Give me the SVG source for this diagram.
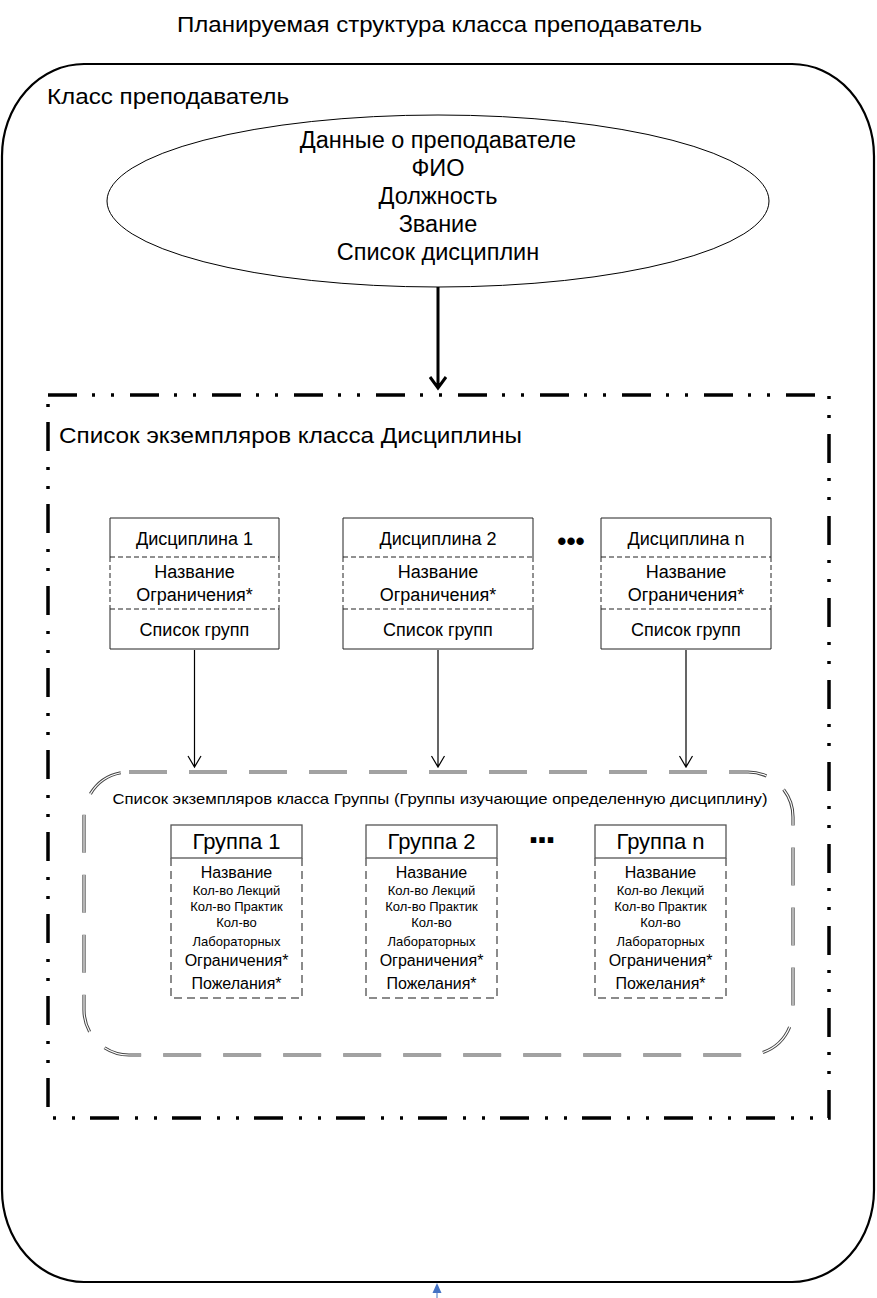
<svg xmlns="http://www.w3.org/2000/svg" width="877" height="1298" viewBox="0 0 877 1298">
<style>
.cal{font-family:"Liberation Sans",Arial,sans-serif;fill:#000}
.ar{font-family:"Liberation Sans",Arial,sans-serif;fill:#000;text-anchor:middle}
.solid{fill:none;stroke:#222;stroke-width:1}
.dsh{fill:none;stroke:#222;stroke-width:1;stroke-dasharray:5 3}
.gsolid{fill:none;stroke:#555;stroke-width:1.3}
.gdsh{fill:none;stroke:#666;stroke-width:1.5;stroke-dasharray:8 5}
.conn{fill:none;stroke:#000;stroke-width:1.2}
</style>
<rect width="877" height="1298" fill="#fff"/>

<text class="cal" x="177" y="32" font-size="22" textLength="525" lengthAdjust="spacingAndGlyphs">Планируемая структура класса преподаватель</text>

<g id="teacher-class">
<rect x="2" y="64" width="872" height="1218" rx="82" ry="92" fill="none" stroke="#000" stroke-width="2.2"/>
<text class="cal" x="47" y="104" font-size="22" textLength="242" lengthAdjust="spacingAndGlyphs">Класс преподаватель</text>
</g>

<g id="teacher-data">
<ellipse cx="438" cy="201" rx="331" ry="86" fill="#fff" stroke="#000" stroke-width="1"/>
<text class="ar" x="438" y="148" font-size="23.5">Данные о преподавателе</text>
<text class="ar" x="438" y="176" font-size="23.5">ФИО</text>
<text class="ar" x="438" y="204" font-size="23.5">Должность</text>
<text class="ar" x="438" y="232" font-size="23.5">Звание</text>
<text class="ar" x="438" y="260" font-size="23.5">Список дисциплин</text>
</g>

<g id="discipline-list">
<rect x="48" y="395" width="781" height="723" fill="none" stroke="#000" stroke-width="3.5" stroke-dasharray="29 15 3 16 3 16"/>
<text class="cal" x="59" y="443" font-size="22" textLength="463" lengthAdjust="spacingAndGlyphs">Список экземпляров класса Дисциплины</text>
</g>

<g id="discipline-1">
<path class="solid" d="M110,557 V518 H279 V557 M110,609 V649 H279 V609"/>
<path class="dsh" d="M110,557 H279 M110,609 H279 M110,557 V609 M279,557 V609"/>
<text class="ar" x="194.5" y="545" font-size="18">Дисциплина 1</text>
<text class="ar" x="194.5" y="578" font-size="18">Название</text>
<text class="ar" x="194.5" y="601" font-size="18">Ограничения*</text>
<text class="ar" x="194.5" y="636" font-size="18">Список групп</text>
</g>
<g id="discipline-2">
<path class="solid" d="M343,557 V518 H533 V557 M343,609 V649 H533 V609"/>
<path class="dsh" d="M343,557 H533 M343,609 H533 M343,557 V609 M533,557 V609"/>
<text class="ar" x="438" y="545" font-size="18">Дисциплина 2</text>
<text class="ar" x="438" y="578" font-size="18">Название</text>
<text class="ar" x="438" y="601" font-size="18">Ограничения*</text>
<text class="ar" x="438" y="636" font-size="18">Список групп</text>
</g>
<text class="ar" x="571" y="550" font-size="26" font-weight="bold">•••</text>
<g id="discipline-n">
<path class="solid" d="M601,557 V518 H771 V557 M601,609 V649 H771 V609"/>
<path class="dsh" d="M601,557 H771 M601,609 H771 M601,557 V609 M771,557 V609"/>
<text class="ar" x="686" y="545" font-size="18">Дисциплина n</text>
<text class="ar" x="686" y="578" font-size="18">Название</text>
<text class="ar" x="686" y="601" font-size="18">Ограничения*</text>
<text class="ar" x="686" y="636" font-size="18">Список групп</text>
</g>

<g id="group-list">
<rect x="84" y="772" width="709" height="283" rx="45" ry="45" fill="none" stroke="#444" stroke-width="3.2" stroke-dasharray="38 22"/>
<rect x="84" y="772" width="709" height="283" rx="45" ry="45" fill="none" stroke="#fff" stroke-width="1.2" stroke-dasharray="38 22"/>
<text class="ar" x="440" y="804" font-size="15" textLength="655" lengthAdjust="spacingAndGlyphs">Список экземпляров класса Группы (Группы изучающие определенную дисциплину)</text>
</g>

<g id="group-1">
<rect class="gsolid" x="171" y="825" width="131" height="33" fill="#fff"/>
<path class="gdsh" d="M171,858 V998 H302 V858"/>
<text class="ar" x="236.5" y="849" font-size="22">Группа 1</text>
<text class="ar" x="236.5" y="878" font-size="16">Название</text>
<text class="ar" x="236.5" y="895" font-size="13">Кол-во Лекций</text>
<text class="ar" x="236.5" y="911" font-size="13">Кол-во Практик</text>
<text class="ar" x="236.5" y="927" font-size="13">Кол-во</text>
<text class="ar" x="236.5" y="946" font-size="13">Лабораторных</text>
<text class="ar" x="236.5" y="966" font-size="16">Ограничения*</text>
<text class="ar" x="236.5" y="989" font-size="16">Пожелания*</text>
</g>
<g id="group-2">
<rect class="gsolid" x="366" y="825" width="131" height="33" fill="#fff"/>
<path class="gdsh" d="M366,858 V998 H497 V858"/>
<text class="ar" x="431.5" y="849" font-size="22">Группа 2</text>
<text class="ar" x="431.5" y="878" font-size="16">Название</text>
<text class="ar" x="431.5" y="895" font-size="13">Кол-во Лекций</text>
<text class="ar" x="431.5" y="911" font-size="13">Кол-во Практик</text>
<text class="ar" x="431.5" y="927" font-size="13">Кол-во</text>
<text class="ar" x="431.5" y="946" font-size="13">Лабораторных</text>
<text class="ar" x="431.5" y="966" font-size="16">Ограничения*</text>
<text class="ar" x="431.5" y="989" font-size="16">Пожелания*</text>
</g>
<text class="ar" x="541" y="843" font-size="38" font-weight="bold" letter-spacing="-2">...</text>
<g id="group-n">
<rect class="gsolid" x="595" y="825" width="131" height="33" fill="#fff"/>
<path class="gdsh" d="M595,858 V998 H726 V858"/>
<text class="ar" x="660.5" y="849" font-size="22">Группа n</text>
<text class="ar" x="660.5" y="878" font-size="16">Название</text>
<text class="ar" x="660.5" y="895" font-size="13">Кол-во Лекций</text>
<text class="ar" x="660.5" y="911" font-size="13">Кол-во Практик</text>
<text class="ar" x="660.5" y="927" font-size="13">Кол-во</text>
<text class="ar" x="660.5" y="946" font-size="13">Лабораторных</text>
<text class="ar" x="660.5" y="966" font-size="16">Ограничения*</text>
<text class="ar" x="660.5" y="989" font-size="16">Пожелания*</text>
</g>

<g id="connectors">
<path d="M438,287 V388 M430,377 L438,388 L446,377" fill="none" stroke="#000" stroke-width="3"/>
<path class="conn" d="M194.5,650 V767 M188,756 L194.5,767 L201,756"/>
<path class="conn" d="M438,650 V767 M431.5,756 L438,767 L444.5,756"/>
<path class="conn" d="M686,650 V767 M679.5,756 L686,767 L692.5,756"/>
<line x1="437" y1="1298" x2="437" y2="1290" stroke="#4472C4" stroke-width="1"/>
<path d="M437,1283 L441.5,1293 L432.5,1293 Z" fill="#4472C4"/>
</g>
</svg>
